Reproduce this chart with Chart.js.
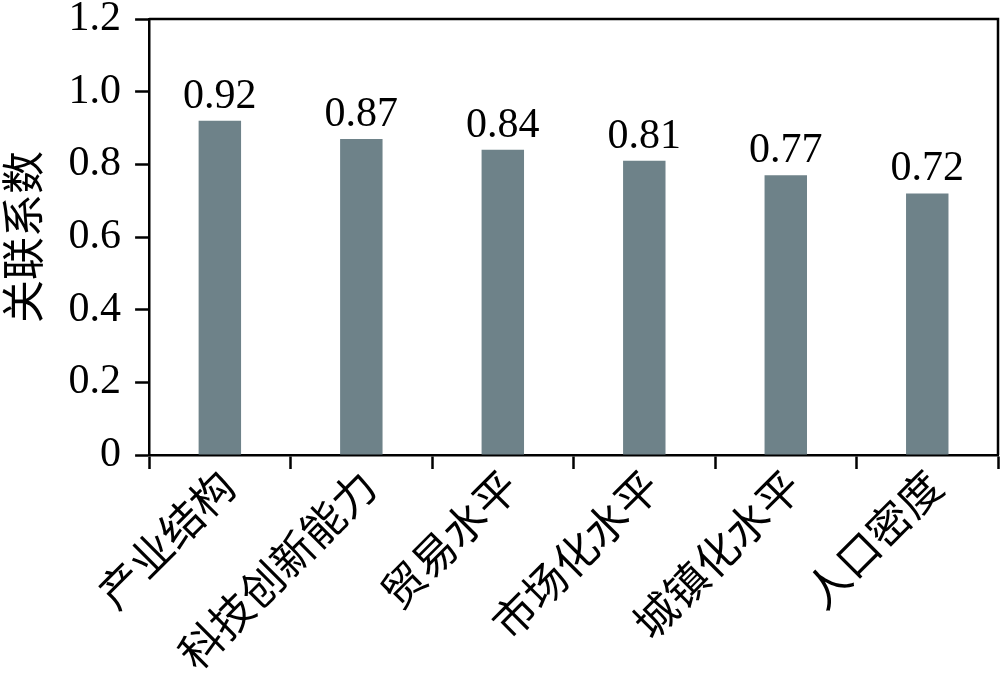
<!DOCTYPE html>
<html>
<head>
<meta charset="utf-8">
<script src="https://cdn.jsdelivr.net/npm/chart.js@4"></script>
<style>
  html, body { margin: 0; padding: 0; background: #fff; }
  #wrap { width: 1000px; height: 674px; }
</style>
</head>
<body>
<div id="wrap"><canvas id="bar"></canvas></div>
<script>
'use strict';
const categories = ['产业结构', '科技创新能力', '贸易水平', '市场化水平', '城镇化水平', '人口密度'];
const values = [0.92, 0.87, 0.84, 0.81, 0.77, 0.72];
const valueLabels = ['0.92', '0.87', '0.84', '0.81', '0.77', '0.72'];
const yTitle = '关联系数';

const serif = '"Liberation Serif", "Times New Roman", serif';
const cjk = '"Noto Sans CJK SC", "Liberation Serif", serif';

// top/right frame + value labels
const extras = {
    id: 'extras',
    afterDatasetsDraw(chart) {
        const ctx = chart.ctx;
        const a = chart.chartArea;
        ctx.save();
        ctx.strokeStyle = '#000';
        ctx.lineWidth = 2.5;
        ctx.beginPath();
        ctx.moveTo(a.left, a.top);
        ctx.lineTo(a.right, a.top);
        ctx.lineTo(a.right, a.bottom);
        ctx.stroke();
        ctx.fillStyle = '#000';
        ctx.font = '42px ' + serif;
        ctx.textAlign = 'center';
        ctx.textBaseline = 'alphabetic';
        chart.getDatasetMeta(0).data.forEach(function (bar, i) {
            ctx.fillText(valueLabels[i], bar.x, bar.y - 13);
        });
        ctx.restore();
    }
};

new Chart(document.getElementById('bar'), {
    type: 'bar',
    data: {
        labels: categories,
        datasets: [{
            data: values,
            backgroundColor: '#6e8289',
            barPercentage: 0.30,
            categoryPercentage: 1.0
        }]
    },
    options: {
        responsive: true,
        maintainAspectRatio: false,
        animation: false,
        layout: { padding: { left: -3, right: 2, top: 0, bottom: 2 } },
        plugins: { legend: { display: false }, tooltip: { enabled: false } },
        scales: {
            x: {
                offset: true,
                afterFit: function (scale) { scale.height = 674 - 455 - 2; },
                grid: { offset: true, drawOnChartArea: false, tickLength: 14, tickWidth: 2.5, tickColor: '#000' },
                border: { color: '#000', width: 2.5 },
                ticks: {
                    maxRotation: 45, minRotation: 45, padding: -6, labelOffset: 7,
                    color: '#000', font: { family: cjk, size: 43, lineHeight: 1 }
                }
            },
            y: {
                min: 0, max: 1.2,
                afterFit: function (scale) { scale.paddingTop = 19; },
                grid: { drawOnChartArea: false, tickLength: 14, tickWidth: 2.5, tickColor: '#000' },
                border: { color: '#000', width: 2.5 },
                ticks: {
                    stepSize: 0.2, padding: 14, color: '#000',
                    font: { family: serif, size: 42 },
                    callback: function (v) { return v === 0 ? '0' : v.toFixed(1); }
                },
                title: {
                    display: true, text: yTitle, color: '#000', padding: { top: 0, bottom: 6 },
                    font: { family: cjk, size: 43 }
                }
            }
        }
    },
    plugins: [extras]
});
</script>
</body>
</html>
